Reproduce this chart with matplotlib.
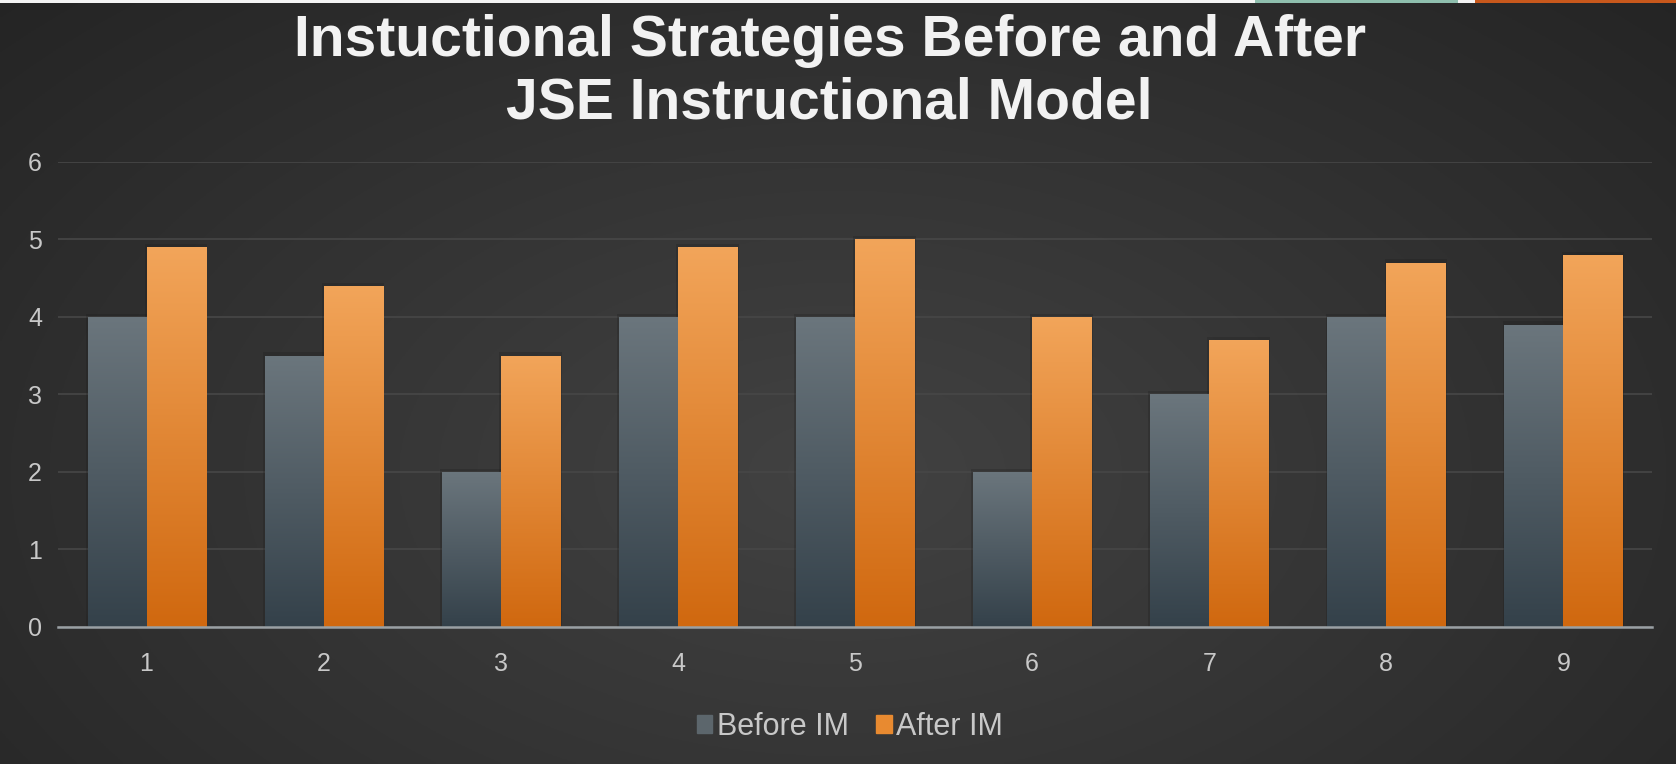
import numpy as np
import matplotlib
matplotlib.use('Agg')
import matplotlib.pyplot as plt
from matplotlib.patches import Rectangle

# data
categories = ['1', '2', '3', '4', '5', '6', '7', '8', '9']
before_im  = [4.0, 3.5, 2.0, 4.0, 4.0, 2.0, 3.0, 4.0, 3.9]
after_im   = [4.9, 4.4, 3.5, 4.9, 5.0, 4.0, 3.7, 4.7, 4.8]
series_names = ['Before IM', 'After IM']
title = 'Instuctional Strategies Before and After\nJSE Instructional Model'

plt.rcParams['font.family'] = ['Liberation Sans', 'DejaVu Sans']

fig = plt.figure(figsize=(16.76, 7.64), dpi=100)

# radial dark background over the whole slide
bg = fig.add_axes([0, 0, 1, 1], zorder=-10)
yy, xx = np.mgrid[0:1:300j, 0:1:600j]
r = np.sqrt(((xx - 0.5) * 1.3) ** 2 + ((yy - 0.62) * 1.0) ** 2)
shade = np.clip(0.26 - 0.13 * r, 0.14, 0.26)
bg.imshow(np.dstack([shade] * 3), extent=[0, 1, 0, 1], aspect='auto', origin='upper')
bg.set_xlim(0, 1); bg.set_ylim(0, 1)
bg.axis('off')

# thin slide strip along the top edge
for x0, x1, c in [(0, 1255, '#f4f4f4'), (1255, 1458, '#8fbfae'), (1458, 1475, '#f4f4f4'), (1475, 1676, '#c8581c')]:
  fig.add_artist(Rectangle((x0 / 1676, 1 - 3 / 764), (x1 - x0) / 1676, 3 / 764,
                           transform=fig.transFigure, color=c, lw=0, zorder=5))

ax = fig.add_axes([58 / 1676, 1 - 627 / 764, 1594 / 1676, (627 - 161.7) / 764])
ax.patch.set_alpha(0)

x = np.arange(len(categories))
w = 1 / 3

def grad_bars(xpos, vals, top_col, bot_col):
  bars = ax.bar(xpos, vals, width=w, color='none', lw=0, zorder=3)
  top = np.array(matplotlib.colors.to_rgb(top_col))
  bot = np.array(matplotlib.colors.to_rgb(bot_col))
  g = np.linspace(0, 1, 256)[:, None]
  img = top[None, None, :] * (1 - g[..., None]) + bot[None, None, :] * g[..., None]
  for b in bars:
    bx, by = b.get_x(), b.get_y()
    bw, bh = b.get_width(), b.get_height()
    # soft dark halo
    ax.add_patch(Rectangle((bx - 0.01, by), bw + 0.02, bh + 0.04, color='#1c1c1c', alpha=0.25, lw=0, zorder=2))
    im = ax.imshow(img, extent=[bx, bx + bw, by, by + bh], aspect='auto', zorder=3, origin='upper')
    im.set_clip_path(b)
  return bars

grad_bars(x - w / 2, before_im, '#6b767d', '#34414a')
grad_bars(x + w / 2, after_im, '#f2a55a', '#d0680f')

ax.set_xlim(-0.5, len(categories) - 0.5)
ax.set_ylim(0, 6)
ax.set_yticks(range(0, 7))
ax.set_xticks(x)
ax.set_xticklabels(categories)
ax.tick_params(axis='both', colors='#c8c8c8', labelsize=18, length=0)
ax.tick_params(axis='x', pad=18)
ax.tick_params(axis='y', pad=16.5)
for lab in ax.get_yticklabels():
  lab.set_horizontalalignment('center')

ax.yaxis.grid(True, color='#474747', lw=1.2)
ax.set_axisbelow(True)
for s in ['top', 'right', 'left']:
  ax.spines[s].set_visible(False)
ax.spines['bottom'].set_color('#9aa0a4')
ax.spines['bottom'].set_linewidth(1.8)
ax.spines['bottom'].set_zorder(4)

fig.text(0.495, 0.982, title, ha='center', va='top', fontsize=41, fontweight='bold',
         color='#f2f2f2', linespacing=1.22)

handles = [Rectangle((0, 0), 1, 1, color='#5c666c'), Rectangle((0, 0), 1, 1, color='#e88a30')]
leg = fig.legend(handles, series_names, loc='center', bbox_to_anchor=(850 / 1676, 1 - 727 / 764),
                 ncol=2, frameon=False, fontsize=22, labelcolor='#c8c8c8',
                 handlelength=0.5, handleheight=0.5, handletextpad=0.15, columnspacing=0.9)

fig.savefig('out.png', dpi=100)
